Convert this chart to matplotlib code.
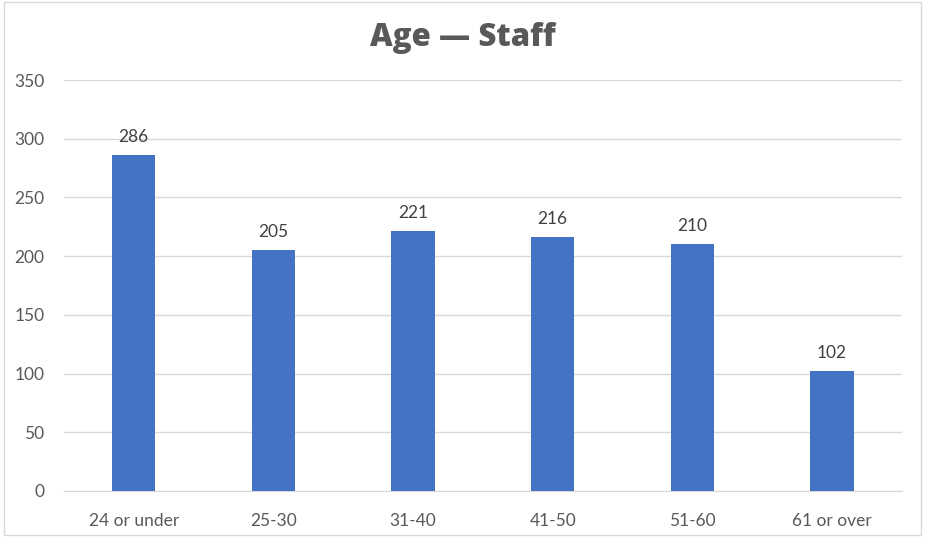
import matplotlib
matplotlib.use('Agg')
from matplotlib import pyplot as plt
from matplotlib.patches import Rectangle

categories = ['24 or under', '25-30', '31-40', '41-50', '51-60', '61 or over']
staff = [286, 205, 221, 216, 210, 102]
yticks = [0, 50, 100, 150, 200, 250, 300, 350]

plt.rcParams['font.family'] = ['Lato', 'DejaVu Sans']

fig = plt.figure(figsize=(9.25, 5.37), dpi=100)
ax = fig.add_axes([0.069, 0.0857, 0.906, 0.7653])

x = range(len(categories))
bars = ax.bar(x, staff, width=0.31, color='#4472C4', zorder=3)
for b, v in zip(bars, staff):
    ax.text(b.get_x() + b.get_width() / 2, v + 9, str(v), ha='center', va='bottom',
            fontsize=12.5, color='#404040')

ax.set_xlim(-0.5, len(categories) - 0.5)
ax.set_ylim(0, 350)
ax.set_yticks(yticks)
ax.set_xticks(list(x))
ax.set_xticklabels(categories)
ax.tick_params(axis='both', length=0, labelsize=12.5, labelcolor='#595959')
ax.tick_params(axis='y', pad=14)
ax.tick_params(axis='x', pad=16)
ax.grid(axis='y', color='#D9D9D9', linewidth=1, zorder=0)
for s in ['top', 'right', 'left']:
    ax.spines[s].set_visible(False)
ax.spines['bottom'].set_color('#D9D9D9')

fig.text(0.5, 0.93, 'Age — Staff', ha='center', va='center', fontsize=22.5,
         fontweight='heavy', color='#595959', family=['Open Sans', 'DejaVu Sans'])

fig.patches.append(Rectangle((0.004, 0.004), 0.992, 0.992, transform=fig.transFigure,
                             fill=False, edgecolor='#D9D9D9', linewidth=1))

plt.savefig('out.png', dpi=100)
